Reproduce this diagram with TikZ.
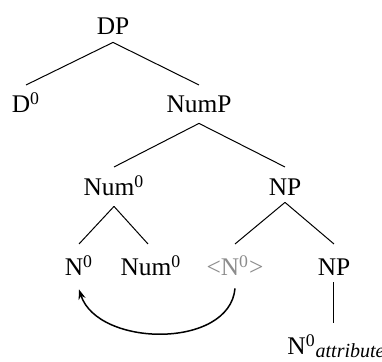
\documentclass[tikz,border=0pt]{standalone}
\usepackage{fontspec}
\setmainfont{Liberation Serif}
\usetikzlibrary{arrows.meta,positioning}

\begin{document}
\begin{tikzpicture}[
    x=0.5pt, y=-0.5pt,
    cat/.style={inner sep=0pt, text height=8.3pt, text depth=0pt, anchor=base, font=\fontsize{12.7}{15}\selectfont},
    trace/.style={cat, text=black!45},
    branch/.style={line width=0.5pt},
    move/.style={-{Stealth[length=5pt, width=3.6pt]}, line width=0.75pt}
]
\useasboundingbox (0,0) rectangle (382,362);

\node[cat] (dp) at (113,35) {DP};
\node[cat] (d) at (26,113) {D\textsuperscript{0}};
\node[cat] (nump) at (199,113) {NumP};
\node[cat] (num) at (114,196) {Num\textsuperscript{0}};
\node[cat] (np) at (285,196) {NP};
\node[cat] (n) at (79,276) {N\textsuperscript{0}};
\node[cat] (numhead) at (151,276) {Num\textsuperscript{0}};
\node[trace] (tr) at (235,276) {<N\textsuperscript{0}>};
\node[cat] (npattr) at (334,276) {NP};
\node[cat] (attr) at (336,355) {N\textsuperscript{0}{\fontsize{10}{12}\selectfont\raisebox{-1.5pt}{\textit{attribute}}}};
\coordinate (attrtop) at ([yshift=7.5pt]attr.north);

\draw[branch] ([yshift=-3.5pt]dp.south) -- ([yshift=5.5pt]d.north);
\draw[branch] ([yshift=-3.5pt]dp.south) -- ([yshift=5.5pt]nump.north);
\draw[branch] ([yshift=-5pt]nump.south) -- ([yshift=6pt]num.north);
\draw[branch] ([yshift=-5pt]nump.south) -- ([yshift=6pt]np.north);
\draw[branch] ([yshift=-5pt]num.south) -- ([yshift=7.5pt]n.north);
\draw[branch] ([yshift=-5pt]num.south) -- ([yshift=7.5pt,xshift=-1.5pt]numhead.north);
\draw[branch] ([yshift=-3pt]np.south) -- ([yshift=7.5pt]tr.north);
\draw[branch] ([yshift=-3pt]np.south) -- ([yshift=7.5pt]npattr.north);
\draw[branch] ([yshift=-3pt]npattr.south) -- (npattr.south |- attrtop);

% head movement
\draw[move] ([yshift=-6pt]tr.south) to[out=-95, in=-72] ([yshift=-6.5pt]n.south);

\end{tikzpicture}
\end{document}
